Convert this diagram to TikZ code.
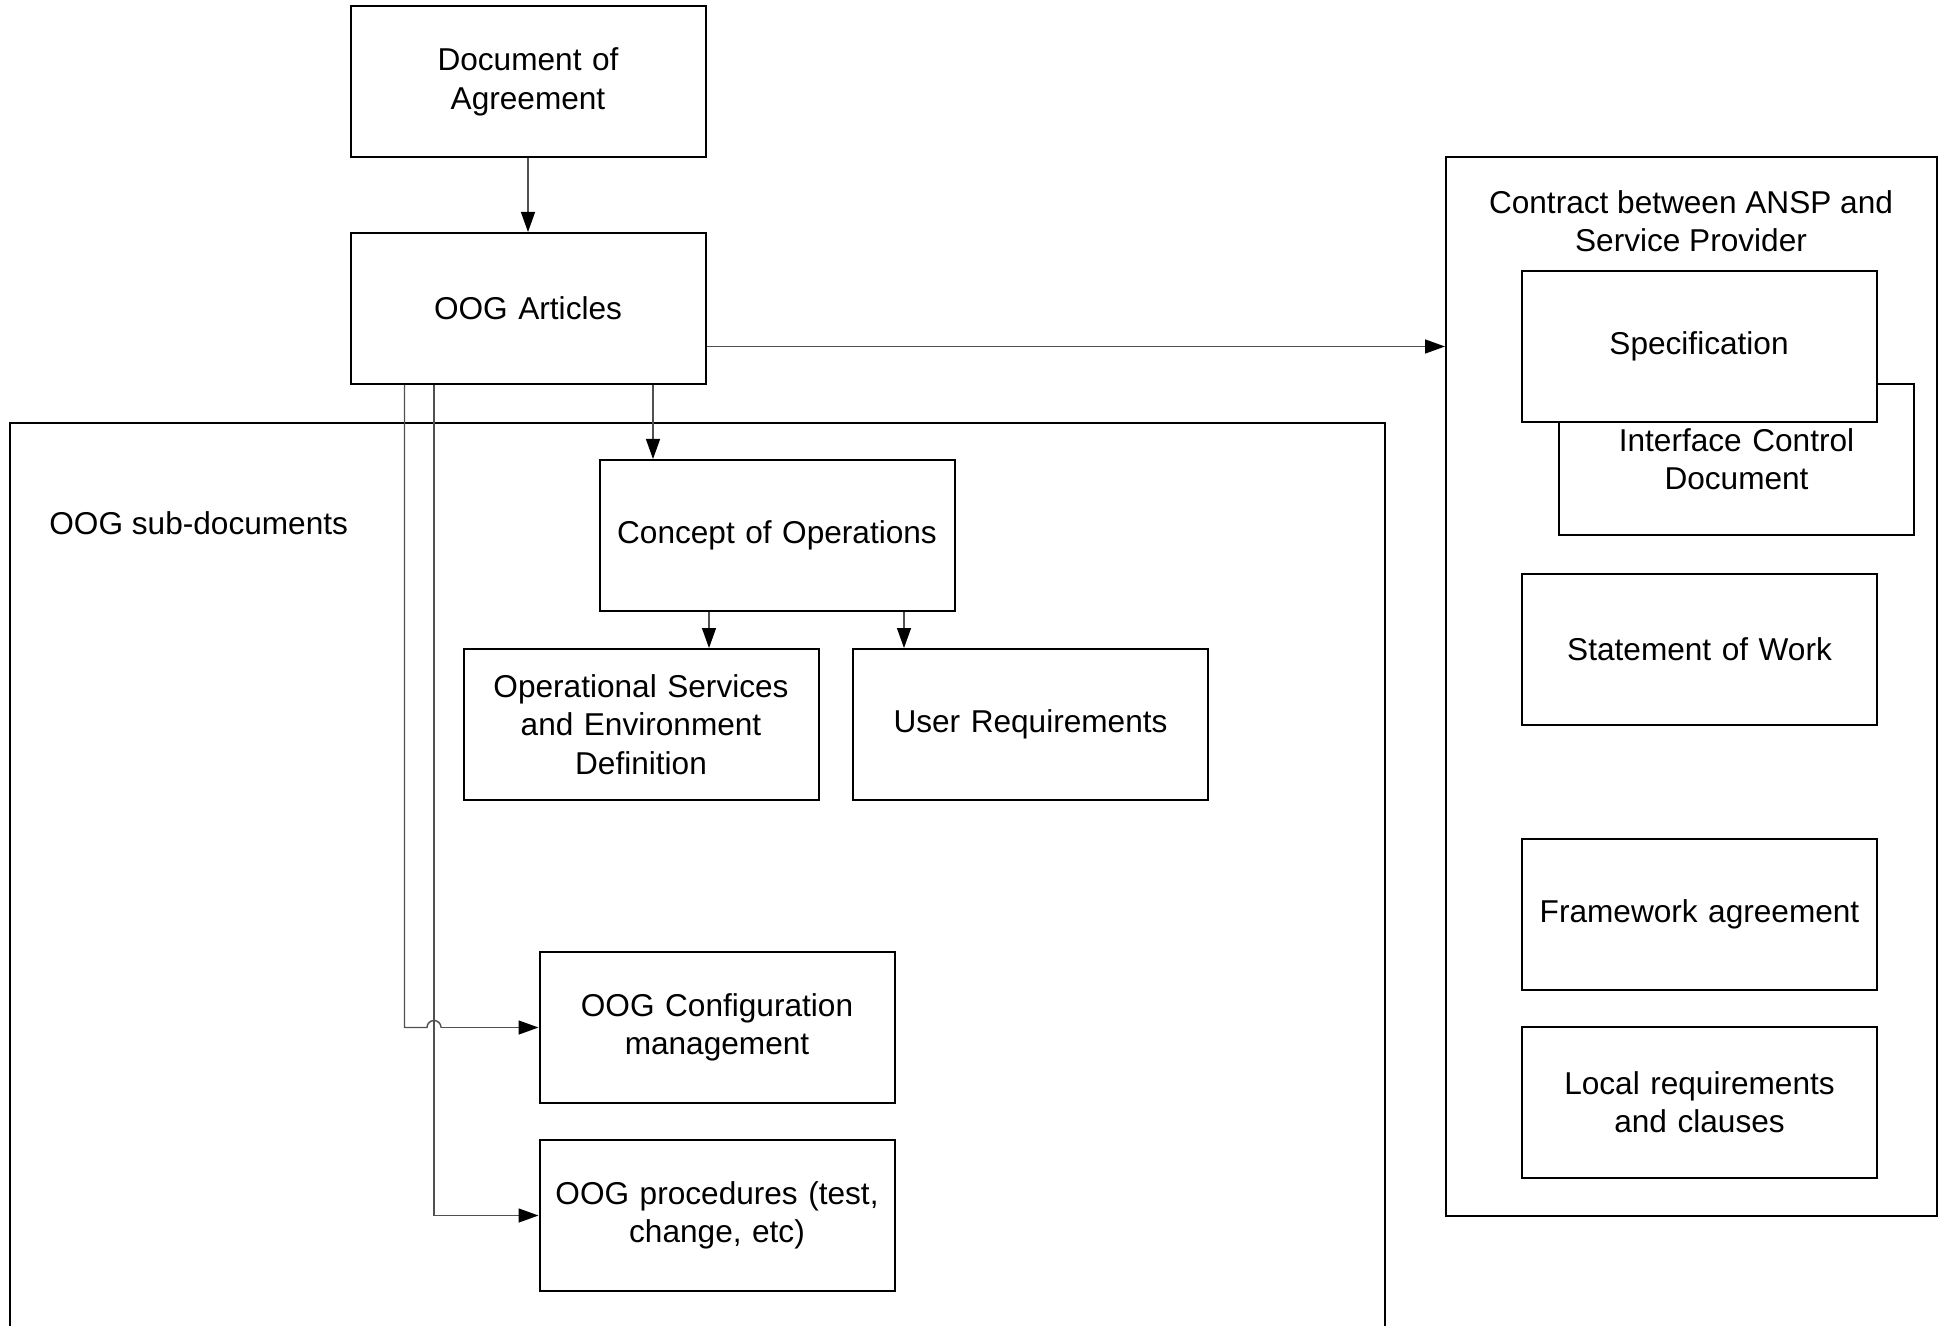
\documentclass[tikz,border=0pt]{standalone}
\usepackage{fontspec}
\setmainfont{Liberation Sans}
\usetikzlibrary{arrows.meta,calc}
\definecolor{conn}{RGB}{80,80,80}
\begin{document}
\begin{tikzpicture}[x=0.5pt,y=-0.5pt,
  every node/.style={font=\fontsize{15.8}{19.2}\selectfont, align=center},
  box/.style={draw=black, line width=1pt, fill=white, minimum width=177.5pt, minimum height=75.5pt, inner sep=0pt, text width=170pt},
  conn/.style={draw=conn, line width=0.7pt, -{Triangle[length=10pt,width=7pt,color=black]}},
  plain/.style={draw=conn, line width=0.7pt}]
\useasboundingbox (0,0) rectangle (1943,1326);
% container boxes
\draw[line width=1pt] (10,1340) -- (10,423) -- (1385,423) -- (1385,1340);
\node[anchor=west, inner sep=0pt] (subt) at (49,523) {OOG sub-documents};
\node[draw, line width=1pt, minimum width=245.5pt, minimum height=529.5pt, inner sep=0pt] (contract) at (1691.5,686.5) {};
\node (ctitle) at (1691,221) {Contract between ANSP and\\Service Provider};
% nodes
\node[box] (doa) at (528,82) {Document of\\Agreement};
\node[box] (art) at (528,308.5) {OOG Articles};
\node[box] (conc) at (777,535.5) {Concept of Operations};
\node[box] (ops) at (641,724.5) {Operational Services\\and Environment\\Definition};
\node[box] (ur) at (1030.5,724.5) {User Requirements};
\node[box] (cfg) at (717,1027.5) {OOG Configuration\\management};
\node[box] (proc) at (717,1215.5) {OOG procedures (test,\\change, etc)};
\node[box] (icd) at (1736.5,459.5) {Interface Control\\Document};
\node[box] (spec) at (1699,346.5) {Specification};
\node[box] (sow) at (1699.5,649.5) {Statement of Work};
\node[box] (fw) at (1699.5,914) {Framework agreement};
\node[box] (loc) at (1699.5,1102) {Local requirements\\and clauses};
% connectors
\draw[conn] (doa.south) -- (art.north);
\draw[conn] (art.east |- spec.center) -- (contract.west |- spec.center);
\draw[conn] ([xshift=62.5pt]art.south) -- ([xshift=62.5pt]art.south |- conc.north);
\draw[conn] ([xshift=-34pt]conc.south) -- ([xshift=-34pt]conc.south |- ops.north);
\draw[conn] ([xshift=63.5pt]conc.south) -- ([xshift=63.5pt]conc.south |- ur.north);
\coordinate (la) at ([xshift=-61.75pt]art.south);
\coordinate (lb) at ([xshift=-47pt]art.south);
\coordinate (hopL) at ([xshift=-3.5pt]lb |- cfg.west);
\draw[plain] (la) -- (la |- cfg.west) -- (hopL) arc[start angle=180,end angle=0,radius=3.5pt];
\draw[conn] ([xshift=3.5pt]lb |- cfg.west) -- (cfg.west);
\draw[conn] (lb) -- (lb |- proc.west) -- (proc.west);
\end{tikzpicture}
\end{document}
